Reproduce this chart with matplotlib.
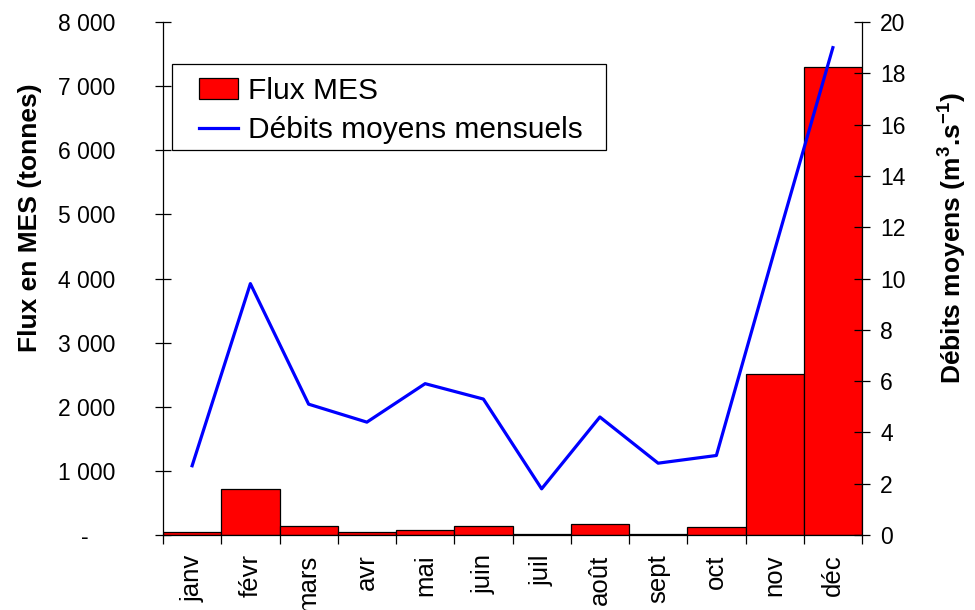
import matplotlib
matplotlib.use("Agg")
import matplotlib.pyplot as plt
import matplotlib.transforms as mtransforms
from matplotlib.patches import Rectangle
import numpy as np

# Monthly suspended-sediment flux and mean discharge
months = ["janv", "févr", "mars", "avr", "mai", "juin",
          "juil", "août", "sept", "oct", "nov", "déc"]
flux_mes = [40, 720, 135, 40, 75, 135, 15, 175, 15, 120, 2510, 7300]
debit_moyen = [2.7, 9.8, 5.1, 4.4, 5.9, 5.3, 1.8, 4.6, 2.8, 3.1, 11.1, 19.0]
flux_ticks = [0, 1000, 2000, 3000, 4000, 5000, 6000, 7000, 8000]
debit_ticks = [0, 2, 4, 6, 8, 10, 12, 14, 16, 18, 20]

plt.rcParams.update({
    "font.family": ["Liberation Sans", "DejaVu Sans"],
    "mathtext.fontset": "custom",
    "mathtext.rm": "Liberation Sans",
    "mathtext.bf": "Liberation Sans:bold",
    "mathtext.default": "bf",
})

W, H = 975, 610
fig = plt.figure(figsize=(W / 100, H / 100), dpi=100)
ax = fig.add_axes([163 / W, 75 / H, 699 / W, 513 / H])

x = np.arange(len(months))
bars = ax.bar(x, flux_mes, width=1.0, color="#ff0000", edgecolor="black",
              linewidth=0.9, label="Flux MES", zorder=2)
ax.set_xlim(-0.5, len(months) - 0.5)
ax.set_ylim(0, 8000)
ax.set_yticks(flux_ticks)
ax.set_yticklabels(["-" if v == 0 else f"{v:,}".replace(",", " ") for v in flux_ticks])
ax.tick_params(axis="y", direction="inout", length=11, width=0.9, pad=29,
               labelsize=16.5, colors="black")

# category boundaries carry the tick marks, centres carry the month names
ax.set_xticks(np.arange(-0.5, len(months), 1.0))
ax.set_xticks(x, minor=True)
ax.set_xticklabels(months, minor=True, rotation=90)
ax.tick_params(axis="x", which="major", direction="out", length=6.5, width=0.9,
               labelbottom=False)
ax.tick_params(axis="x", which="minor", length=0, pad=14, labelsize=18.5)

for side in ("top", "right"):
    ax.spines[side].set_visible(False)
for side in ("left", "bottom"):
    ax.spines[side].set_linewidth(0.9)

# shift the "-" zero label left, as in accounting number format
fig.canvas.draw()
zero_lbl = ax.get_yticklabels()[0]
zero_lbl.set_transform(zero_lbl.get_transform() +
                       mtransforms.ScaledTranslation(-26 / 100, 0, fig.dpi_scale_trans))

ax.set_ylabel("Flux en MES (tonnes)", fontsize=19, fontweight="bold")
ax.yaxis.set_label_coords(-0.173, 0.618)

ax2 = ax.twinx()
line, = ax2.plot(x, debit_moyen, color="#0000ff", linewidth=2.3,
                 label="Débits moyens mensuels", zorder=3)
ax2.set_ylim(0, 20)
ax2.set_yticks(debit_ticks)
ax2.tick_params(axis="y", direction="inout", length=11, width=0.9, pad=7.5,
                labelsize=16.5, colors="black")
for side in ("top", "left", "bottom"):
    ax2.spines[side].set_visible(False)
ax2.spines["right"].set_linewidth(0.9)

ax2.set_ylabel(r"Débits moyens (m$^{3}$.s$^{-1}$)", fontsize=19, fontweight="bold")
ax2.yaxis.set_label_coords(1.107, 0.579)

# legend frame with fixed size, entries placed inside
frame = Rectangle((9 / 699, (535 - 150) / 513), 434 / 699, 86 / 513,
                  transform=ax2.transAxes, facecolor="white", edgecolor="black",
                  linewidth=0.9, zorder=5)
ax2.add_patch(frame)
leg = ax2.legend([bars, line], ["Flux MES", "Débits moyens mensuels"],
                 loc="upper left", bbox_to_anchor=((199 - 163) / 699, (535 - 77) / 513),
                 frameon=False, fontsize=21.5, handlelength=1.32, handleheight=0.66,
                 handletextpad=0.33, labelspacing=0.37, borderpad=0, borderaxespad=0)
leg.set_zorder(6)

fig.savefig("out.png", dpi=100)
